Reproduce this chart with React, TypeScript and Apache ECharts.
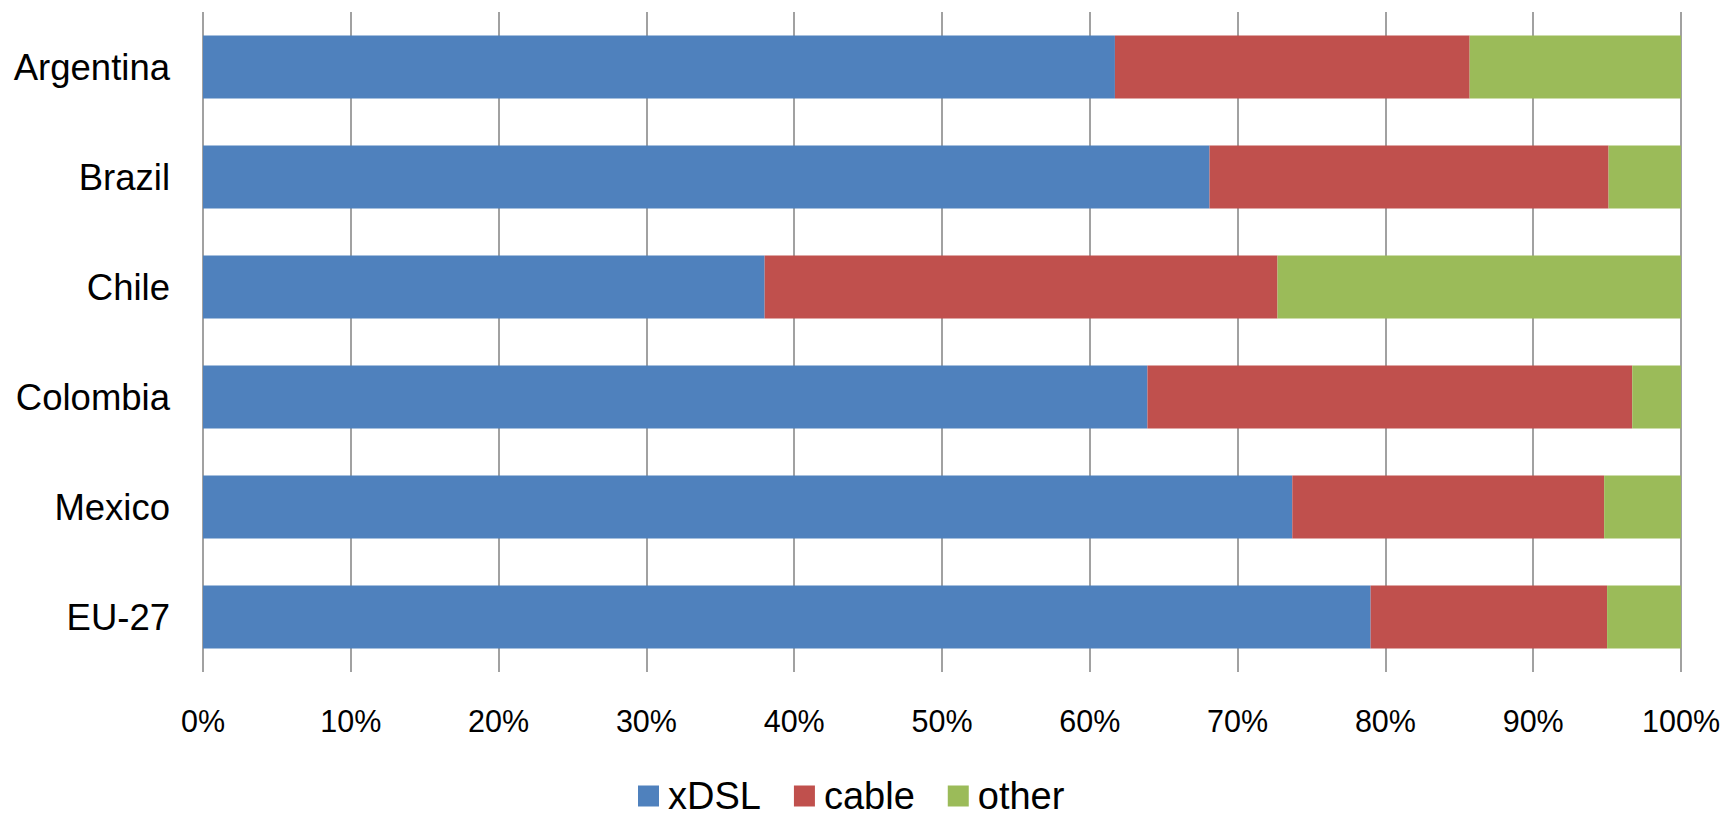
import React, { useEffect, useRef } from "react";
import * as echarts from "echarts";

const categories = ["Argentina", "Brazil", "Chile", "Colombia", "Mexico", "EU-27"];
const xdsl = [61.7, 68.1, 38.0, 63.9, 73.7, 79.0];
const cable = [24.0, 27.0, 34.7, 32.8, 21.1, 16.0];
const other = [14.3, 4.9, 27.3, 3.3, 5.2, 5.0];
const seriesNames = ["xDSL", "cable", "other"];
const colors = ["#4F81BD", "#C0504D", "#9BBB59"];

const FONT = "'Liberation Sans', Arial, sans-serif";

export default function App() {
  const ref = useRef<HTMLDivElement>(null);
  useEffect(() => {
    if (!ref.current) return;
    const chart = echarts.init(ref.current, undefined, { renderer: "svg" });
    const data = [xdsl, cable, other];
    chart.setOption({
      animation: false,
      backgroundColor: "#ffffff",
      color: colors,
      textStyle: { fontFamily: FONT },
      grid: { left: 203, right: 44, top: 12, bottom: 144, containLabel: false },
      legend: {
        data: seriesNames,
        left: 638,
        top: 777,
        padding: 0,
        itemWidth: 21,
        itemHeight: 21,
        itemGap: 33,
        icon: "rect",
        textStyle: {
          fontSize: 38,
          lineHeight: 38,
          color: "#000",
          fontFamily: FONT,
          padding: [0, 0, 0, 4],
        },
      },
      xAxis: {
        type: "value",
        min: 0,
        max: 100,
        interval: 10,
        axisLine: { show: false },
        axisTick: { show: false },
        axisLabel: { formatter: "{value}%", fontSize: 30.5, color: "#000", margin: 33, fontFamily: FONT },
        splitLine: { show: true, lineStyle: { color: "#8a8a8a", width: 1.6 } },
      },
      yAxis: {
        type: "category",
        data: categories,
        inverse: true,
        axisLine: { show: false },
        axisTick: { show: false },
        axisLabel: { fontSize: 36.5, color: "#000", margin: 33, fontFamily: FONT },
        splitLine: { show: false },
      },
      series: seriesNames.map((name, i) => ({
        name,
        type: "bar",
        stack: "total",
        barWidth: 63,
        data: data[i],
        itemStyle: { color: colors[i] },
      })),
    });
    return () => chart.dispose();
  }, []);
  return (
    <div
      ref={ref}
      style={{ position: "fixed", left: 0, top: 0, width: 1725, height: 816 }}
    />
  );
}
